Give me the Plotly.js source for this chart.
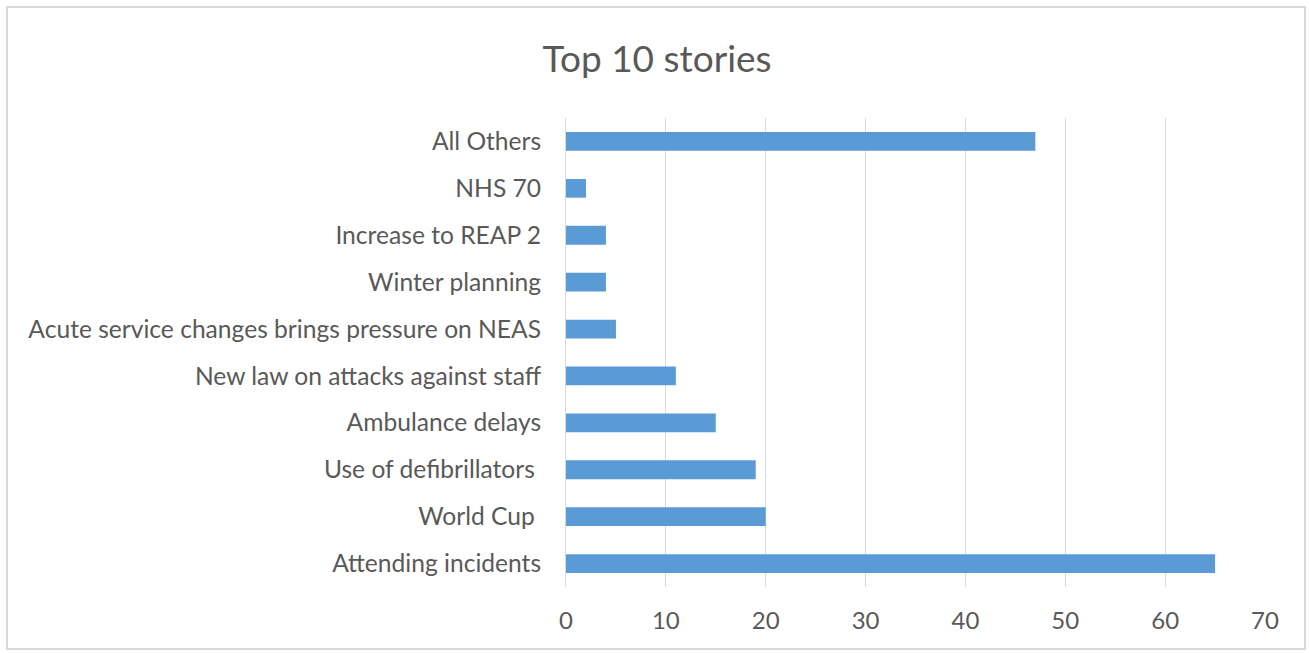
<!DOCTYPE html>
<html>
<head>
<meta charset="utf-8">
<script src="https://cdn.plot.ly/plotly-3.0.1.min.js"></script>
<style>
  html, body { margin: 0; padding: 0; background: #ffffff; }
  #wrap { position: relative; width: 1309px; height: 653px; }
  #chart { width: 1309px; height: 653px; }
  #frame { position: absolute; left: 6px; top: 6px; width: 1300px; height: 644px;
           border: 2px solid #d9d9d9; box-sizing: border-box; pointer-events: none; }
</style>
</head>
<body>
<div id="wrap">
  <div id="chart"></div>
  <div id="frame"></div>
</div>
<script>
// Categories listed top to bottom as shown in the chart
const categories = [
  "All Others",
  "NHS 70",
  "Increase to REAP 2",
  "Winter planning",
  "Acute service changes brings pressure on NEAS",
  "New law on attacks against staff",
  "Ambulance delays",
  "Use of defibrillators\u00a0",
  "World Cup\u00a0",
  "Attending incidents"
];
const storyCounts = [47, 2, 4, 4, 5, 11, 15, 19, 20, 65];
const xTickValues = [0, 10, 20, 30, 40, 50, 60, 70];
const chartTitle = "Top 10 stories";

const fontFamily = "Lato, 'Open Sans', 'Liberation Sans', sans-serif";
const textColor = "#595959";

const data = [{
  type: "bar",
  orientation: "h",
  y: categories,
  x: storyCounts,
  marker: { color: "#5b9bd5" },
  hoverinfo: "x+y"
}];

const layout = {
  width: 1309,
  height: 653,
  paper_bgcolor: "#ffffff",
  plot_bgcolor: "#ffffff",
  margin: { l: 566, r: 44, t: 118, b: 66, pad: 0 },
  title: {
    text: chartTitle,
    font: { family: fontFamily, size: 37, color: textColor },
    x: 0.502, xref: "container", xanchor: "center",
    y: 0.91, yref: "container", yanchor: "middle"
  },
  bargap: 0.6,
  showlegend: false,
  xaxis: {
    range: [0, 70],
    tickvals: xTickValues,
    ticktext: xTickValues.map(String),
    showgrid: true,
    gridcolor: "#d9d9d9",
    gridwidth: 1,
    zeroline: false,
    showline: false,
    ticks: "",
    ticklabelstandoff: 17,
    tickfont: { family: fontFamily, size: 24, color: textColor },
    fixedrange: true
  },
  yaxis: {
    type: "category",
    autorange: "reversed",
    showgrid: false,
    zeroline: false,
    showline: true,
    linecolor: "#d9d9d9",
    linewidth: 1,
    ticks: "",
    ticklabelstandoff: 19,
    tickfont: { family: fontFamily, size: 24.6, color: textColor },
    fixedrange: true
  }
};

Plotly.newPlot("chart", data, layout, { displayModeBar: false, staticPlot: true });
</script>
</body>
</html>
